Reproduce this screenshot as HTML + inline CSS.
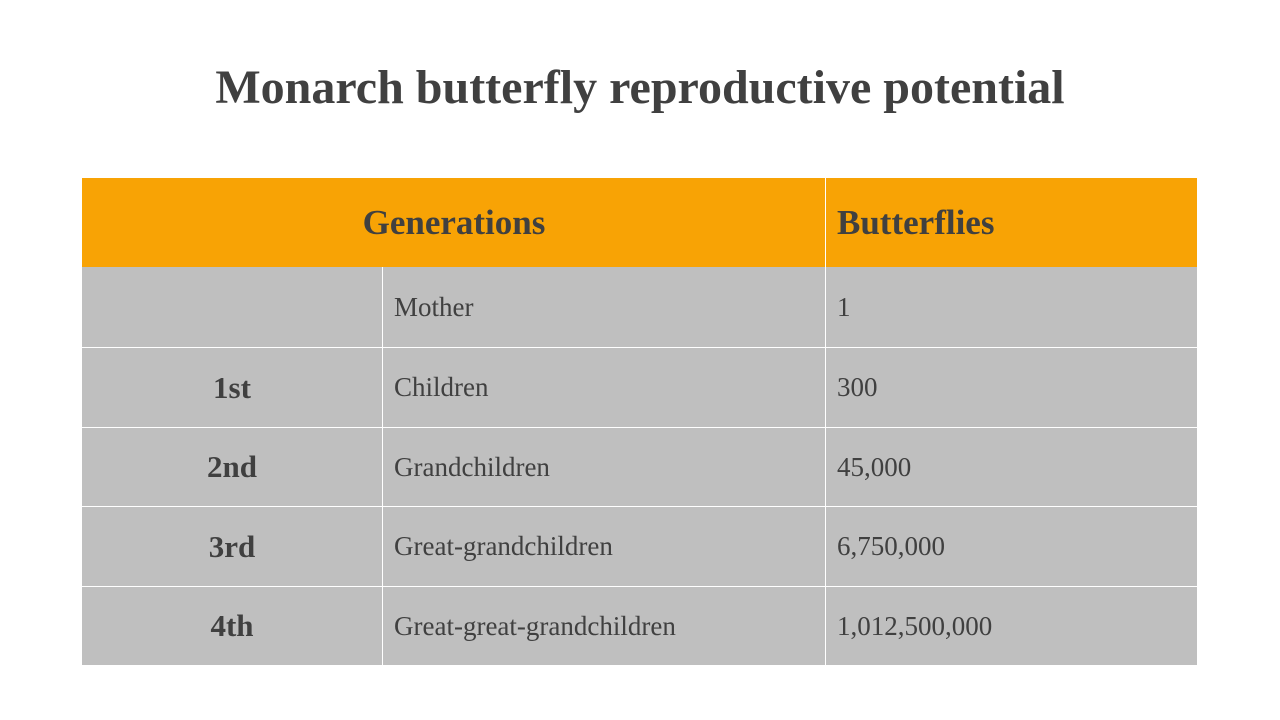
<!DOCTYPE html>
<html><head><meta charset="utf-8"><style>
body{margin:0;width:1280px;height:720px;background:#fff;position:relative;font-family:"Liberation Serif",serif;color:#404040;overflow:hidden}
h1{position:absolute;left:0;width:1280px;top:58px;margin:0;text-align:center;font-size:48px;font-weight:bold;line-height:60px}
.c{position:absolute;box-sizing:border-box;display:flex;align-items:center}
.h{background:#F8A305;font-weight:bold;font-size:35px}
.b{background:#BFBFBF;font-size:27px}
.g{justify-content:center;font-weight:bold;font-size:31px}
.l{padding-left:11px}
.v{position:absolute;background:#fff}
</style></head><body>
<h1>Monarch butterfly reproductive potential</h1>
<div>
<div class="c h" style="left:82px;top:178px;width:744px;height:89px;justify-content:center">Generations</div>
<div class="c h l" style="left:826px;top:178px;width:371px;height:89px">Butterflies</div>
<div class="c b" style="left:82px;top:267px;width:1115px;height:398px"></div>
<div class="v" style="left:825px;top:178px;width:1px;height:487px"></div>
<div class="v" style="left:382px;top:267px;width:1px;height:398px"></div>
<div class="v" style="left:82px;top:347px;width:1115px;height:1px"></div>
<div class="v" style="left:82px;top:427px;width:1115px;height:1px"></div>
<div class="v" style="left:82px;top:506px;width:1115px;height:1px"></div>
<div class="v" style="left:82px;top:586px;width:1115px;height:1px"></div>

<div class="c b l" style="left:383px;top:267px;width:442px;height:80px">Mother</div>
<div class="c b l" style="left:826px;top:267px;width:371px;height:80px">1</div>

<div class="c b g" style="left:82px;top:348px;width:300px;height:79px">1st</div>
<div class="c b l" style="left:383px;top:348px;width:442px;height:79px">Children</div>
<div class="c b l" style="left:826px;top:348px;width:371px;height:79px">300</div>

<div class="c b g" style="left:82px;top:428px;width:300px;height:78px">2nd</div>
<div class="c b l" style="left:383px;top:428px;width:442px;height:78px">Grandchildren</div>
<div class="c b l" style="left:826px;top:428px;width:371px;height:78px">45,000</div>

<div class="c b g" style="left:82px;top:507px;width:300px;height:79px">3rd</div>
<div class="c b l" style="left:383px;top:507px;width:442px;height:79px">Great-grandchildren</div>
<div class="c b l" style="left:826px;top:507px;width:371px;height:79px">6,750,000</div>

<div class="c b g" style="left:82px;top:587px;width:300px;height:78px">4th</div>
<div class="c b l" style="left:383px;top:587px;width:442px;height:78px">Great-great-grandchildren</div>
<div class="c b l" style="left:826px;top:587px;width:371px;height:78px">1,012,500,000</div>
</div>
</body></html>
